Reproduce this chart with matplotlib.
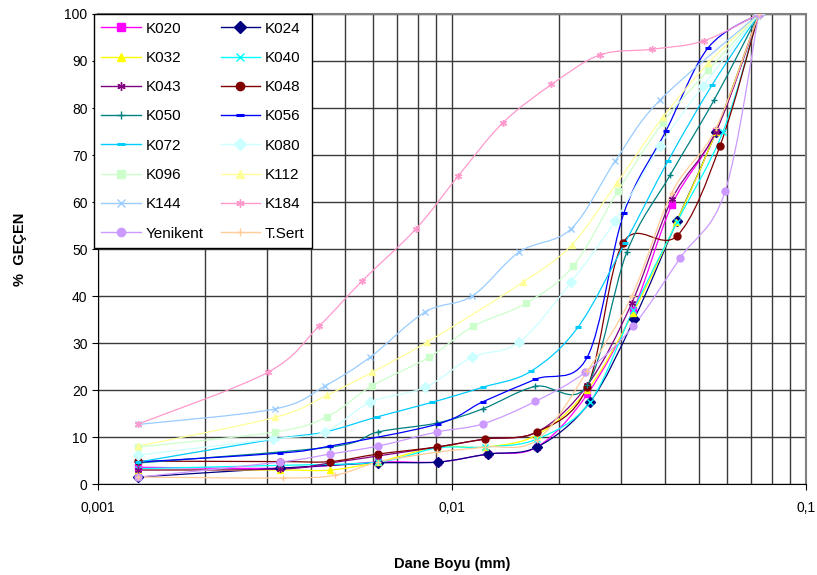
import numpy as np
import matplotlib
matplotlib.use("Agg")
import matplotlib.pyplot as plt
from matplotlib.path import Path
from matplotlib.patches import PathPatch
from matplotlib.lines import Line2D
from matplotlib.ticker import FixedLocator, FuncFormatter, LogLocator, NullFormatter

plt.rcParams['font.family'] = ['Liberation Sans', 'DejaVu Sans']

# sieve / hydrometer results, grain size (mm) vs % passing
k020_x = [0.0013, 0.00327, 0.00618, 0.00913, 0.0126, 0.0174, 0.0241, 0.0325, 0.0418, 0.0557, 0.0736]
k020_y = [3.6, 3.4, 4.7, 4.7, 6.4, 7.9, 19.1, 37.0, 59.4, 75.1, 100]
k024_x = [0.0013, 0.00327, 0.00618, 0.00913, 0.0126, 0.0174, 0.0245, 0.0327, 0.0432, 0.0557, 0.0736]
k024_y = [1.5, 3.4, 4.5, 4.7, 6.4, 7.9, 17.4, 35.1, 56.0, 75.0, 100]
k032_x = [0.0013, 0.00327, 0.00452, 0.00618, 0.00907, 0.0124, 0.0174, 0.0241, 0.0325, 0.0430, 0.0557, 0.0736]
k032_y = [3.0, 3.0, 3.0, 4.7, 7.9, 7.9, 10.5, 20.0, 36.5, 55.7, 75.0, 100]
k040_x = [0.0013, 0.00327, 0.00618, 0.00907, 0.0124, 0.0174, 0.0245, 0.0325, 0.0432, 0.0583, 0.0736]
k040_y = [3.3, 4.0, 4.7, 7.7, 7.9, 9.6, 17.4, 37.0, 55.7, 75.0, 100]
k043_x = [0.0013, 0.00327, 0.00452, 0.00618, 0.00907, 0.0124, 0.0174, 0.0241, 0.0322, 0.0418, 0.0557, 0.0736]
k043_y = [3.0, 3.2, 4.5, 6.0, 7.9, 9.6, 11.1, 21.0, 38.5, 60.6, 75.0, 100]
k048_x = [0.0013, 0.00327, 0.00452, 0.00618, 0.00907, 0.0124, 0.0174, 0.0241, 0.0304, 0.0432, 0.0572, 0.0736]
k048_y = [4.9, 4.8, 4.8, 6.4, 7.9, 9.6, 11.1, 20.6, 51.3, 52.8, 72.0, 100]
k050_x = [0.0013, 0.00452, 0.00618, 0.00907, 0.0122, 0.0172, 0.0241, 0.0312, 0.0413, 0.0550, 0.0736]
k050_y = [4.5, 7.9, 11.1, 13.0, 16.0, 20.8, 21.0, 49.4, 65.7, 81.7, 100]
k056_x = [0.0013, 0.00327, 0.00452, 0.00913, 0.0122, 0.0172, 0.0241, 0.0306, 0.0402, 0.0529, 0.0736]
k056_y = [4.7, 6.6, 8.1, 12.8, 17.5, 22.3, 27.0, 57.7, 75.1, 92.8, 100]
k072_x = [0.0013, 0.00316, 0.00438, 0.00614, 0.00878, 0.0122, 0.0167, 0.0227, 0.0308, 0.0408, 0.0542, 0.0736]
k072_y = [4.7, 9.6, 11.1, 14.3, 17.4, 20.6, 24.0, 33.4, 51.3, 68.8, 84.8, 100]
k080_x = [0.0013, 0.00312, 0.00438, 0.00587, 0.00839, 0.0114, 0.0155, 0.0217, 0.0289, 0.0387, 0.0512, 0.0736]
k080_y = [6.2, 9.6, 11.1, 17.4, 20.6, 27.0, 30.2, 43.0, 56.0, 72.0, 84.7, 100]
k096_x = [0.0013, 0.00316, 0.00443, 0.00594, 0.00861, 0.0115, 0.0162, 0.0220, 0.0294, 0.0394, 0.0529, 0.0736]
k096_y = [7.9, 11.1, 14.3, 20.9, 27.0, 33.6, 38.5, 46.4, 62.3, 76.9, 88.0, 100]
k112_x = [0.0013, 0.00316, 0.00443, 0.00594, 0.00850, 0.0159, 0.0218, 0.0292, 0.0394, 0.0529, 0.0736]
k112_y = [8.1, 14.2, 18.9, 23.8, 30.2, 43.0, 50.9, 64.0, 78.0, 89.5, 100]
k144_x = [0.0013, 0.00316, 0.00438, 0.00587, 0.00839, 0.0114, 0.0155, 0.0217, 0.0289, 0.0387, 0.0736]
k144_y = [12.7, 16.0, 20.9, 27.0, 36.6, 40.0, 49.4, 54.3, 68.7, 81.7, 100]
k184_x = [0.0013, 0.00302, 0.00421, 0.00557, 0.00791, 0.0104, 0.0139, 0.0191, 0.0262, 0.0367, 0.0515, 0.0736]
k184_y = [12.8, 23.8, 33.6, 43.2, 54.3, 65.5, 76.8, 85.0, 91.3, 92.5, 94.3, 100]
yenikent_x = [0.0013, 0.00327, 0.00452, 0.00618, 0.00907, 0.0122, 0.0172, 0.0238, 0.0325, 0.0441, 0.0591, 0.0736]
yenikent_y = [1.5, 4.7, 6.4, 8.1, 11.1, 12.8, 17.6, 23.8, 33.6, 48.1, 62.3, 100]
tsert_x = [0.0013, 0.00333, 0.00467, 0.00618, 0.00907, 0.0124, 0.0174, 0.0241, 0.0322, 0.0418, 0.0557, 0.0736]
tsert_y = [1.5, 1.3, 1.9, 4.7, 6.8, 7.9, 9.4, 24.0, 40.0, 62.0, 75.7, 100]

names = ['K020', 'K024', 'K032', 'K040', 'K043', 'K048', 'K050', 'K056',
         'K072', 'K080', 'K096', 'K112', 'K144', 'K184', 'Yenikent', 'T.Sert']
xs = [k020_x, k024_x, k032_x, k040_x, k043_x, k048_x, k050_x, k056_x,
      k072_x, k080_x, k096_x, k112_x, k144_x, k184_x, yenikent_x, tsert_x]
ys = [k020_y, k024_y, k032_y, k040_y, k043_y, k048_y, k050_y, k056_y,
      k072_y, k080_y, k096_y, k112_y, k144_y, k184_y, yenikent_y, tsert_y]

# excel-ish default series styling
colors = ['#FF00FF', '#000080', '#FFFF00', '#00FFFF', '#800080', '#800000', '#008080', '#0000FF',
          '#00CCFF', '#CCFFFF', '#CCFFCC', '#FFFF99', '#99CCFF', '#FF99CC', '#CC99FF', '#FFCC99']
markers = ['s', 'D', '^', 'x', (6, 2, 0), 'o', '+', '_',
           '_', 'D', 's', '^', 'x', (6, 2, 0), 'o', '+']


def smooth_path(x, y, t=1/6):
    # catmull-rom style bezier in log-x space, like excel "smoothed line"
    pts = np.column_stack([np.log10(x), y])
    verts = [pts[0]]
    codes = [Path.MOVETO]
    n = len(pts)
    for i in range(n - 1):
        p0 = pts[i - 1] if i > 0 else pts[i]
        p1 = pts[i]
        p2 = pts[i + 1]
        p3 = pts[i + 2] if i + 2 < n else pts[i + 1]
        verts += [p1 + (p2 - p0) * t, p2 - (p3 - p1) * t, p2]
        codes += [Path.CURVE4] * 3
    verts = np.array(verts)
    verts[:, 0] = 10 ** verts[:, 0]
    return Path(verts, codes)


fig = plt.figure(figsize=(8.17, 5.75), dpi=100)
ax = fig.add_axes([0.120, 0.158, 0.8665, 0.8177])
ax.set_xscale('log')
ax.set_xlim(0.001, 0.1)
ax.set_ylim(0, 100)

handles = []
for x, y, c, m, nm in zip(xs, ys, colors, markers, names):
    ax.add_patch(PathPatch(smooth_path(x, y), facecolor='none', edgecolor=c, lw=0.9, zorder=3))
    mew = 2.2 if m == '_' else 1.0
    ax.plot(x, y, ls='none', marker=m, color=c, ms=5, mew=mew, zorder=4)
    handles.append(Line2D([], [], color=c, lw=1.0, marker=m, ms=6, mew=mew))

# grid
ax.xaxis.set_major_locator(LogLocator(base=10))
ax.xaxis.set_minor_locator(LogLocator(base=10, subs=np.arange(2, 10)))
ax.xaxis.set_minor_formatter(NullFormatter())
ax.xaxis.set_major_formatter(FuncFormatter(lambda v, p: ('%g' % v).replace('.', ',')))
ax.yaxis.set_major_locator(FixedLocator(np.arange(0, 101, 10)))
ax.grid(which='both', axis='x', color='#3a3a3a', lw=1.0)
ax.grid(which='major', axis='y', color='#3a3a3a', lw=1.0)
ax.set_axisbelow(True)
ax.tick_params(axis='both', which='major', direction='out', length=4, labelsize=10, color='black')
ax.tick_params(axis='x', which='minor', length=0)
ax.tick_params(axis='x', which='major', pad=8)
for s in ['top', 'right']:
    ax.spines[s].set_color('#808080')
    ax.spines[s].set_linewidth(1.5)
for s in ['left', 'bottom']:
    ax.spines[s].set_color('black')

ax.set_xlabel('Dane Boyu (mm)', fontsize=10.5, fontweight='bold')
ax.xaxis.set_label_coords(0.5, -0.155)
ax.set_ylabel('%  GEÇEN', fontsize=10.5, fontweight='bold')
ax.yaxis.set_label_coords(-0.1, 0.5)

# legend is row-major in the original
order = list(range(0, 16, 2)) + list(range(1, 16, 2))
leg = ax.legend([handles[i] for i in order], [names[i] for i in order], ncol=2,
                loc='upper left', bbox_to_anchor=(-0.006, 1.0), fontsize=11,
                frameon=True, fancybox=False, edgecolor='black', framealpha=1,
                handlelength=2.6, handletextpad=0.3, columnspacing=1.1,
                labelspacing=1.0, borderpad=0.5, borderaxespad=0)
leg.get_frame().set_linewidth(1.0)
leg.set_zorder(10)

fig.savefig('out.png', dpi=100)
